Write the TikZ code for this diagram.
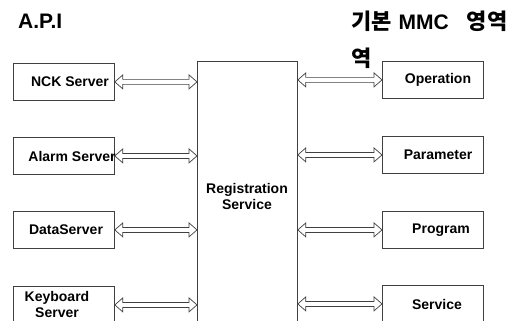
\documentclass[tikz,border=0pt]{standalone}
\usepackage{fontspec}
\setmainfont{Liberation Sans}
\newfontfamily\krfont{Noto Sans CJK KR}
\usetikzlibrary{calc}
\newcommand{\hollowarrow}[2]{%
  \draw[arrowline] let \p1=#1, \p2=#2 in
    (\x1,\y1) -- (\x1+8pt,\y1+7pt) -- (\x1+8pt,\y1+2.5pt) -- (\x2-8pt,\y1+2.5pt)
    -- (\x2-8pt,\y1+7pt) -- (\x2,\y1) -- (\x2-8pt,\y1-7pt) -- (\x2-8pt,\y1-2.5pt)
    -- (\x1+8pt,\y1-2.5pt) -- (\x1+8pt,\y1-7pt) -- cycle;}
\begin{document}
\begin{tikzpicture}[x=1pt,y=-1pt,
  box/.style={draw=black!75, line width=0.8pt, minimum width=101pt, minimum height=37pt, inner sep=0pt, anchor=north west},
  lbl/.style={font=\bfseries\fontsize{14}{16}\selectfont, align=center, inner sep=0pt},
  title/.style={font=\bfseries\fontsize{21}{24}\selectfont, inner sep=0pt, anchor=west},
  arrowline/.style={draw=black!75, line width=0.7pt, line join=miter}]
\useasboundingbox (0,0) rectangle (525,321);
\clip (0,0) rectangle (525,321);
\node[title] (api) at (18,21) {A.P.I};
\node[title] (mmc) at (351,21) {{\krfont\bfseries\fontsize{22}{24}\selectfont 기본}\hspace{7pt}MMC\hspace{18pt}{\krfont\bfseries\fontsize{22}{24}\selectfont 영역}};
\node[title] (yeok) at (351,58) {\krfont\bfseries\fontsize{22}{24}\selectfont 역};
% central
\node[draw=black!75, line width=0.8pt, minimum width=100pt, minimum height=275pt, inner sep=0pt, anchor=north west] (reg) at (197,61) {};
\node[lbl] (regt) at (247,196) {Registration\\Service};
% left boxes
\node[box] (nck) at (13,63) {};
\node[box] (alarm) at (13,137) {};
\node[box] (data) at (13,211) {};
\node[box] (kbd) at (13,286) {};
\node[lbl] (nckt) at (70,82) {NCK Server};
\node[lbl] (alarmt) at (72,156) {Alarm Server};
\node[lbl] (datat) at (66,230) {DataServer};
\node[lbl] (kbdt) at (57,304) {Keyboard\\Server};
% right boxes
\node[box] (op) at (382,61) {};
\node[box] (par) at (382,136) {};
\node[box] (prog) at (382,211) {};
\node[box] (serv) at (382,285) {};
\node[lbl] (opt) at (438,80) {Operation};
\node[lbl] (part) at (438,155) {Parameter};
\node[lbl] (progt) at (441,230) {Program};
\node[lbl] (servt) at (437,304) {Service};
% arrows
\foreach \b in {nck,alarm,data,kbd}{
  \hollowarrow{(\b.east)}{(reg.west |- \b.east)}
}
\foreach \b in {op,par,prog,serv}{
  \hollowarrow{(reg.east |- \b.west)}{(\b.west)}
}
\end{tikzpicture}
\end{document}
